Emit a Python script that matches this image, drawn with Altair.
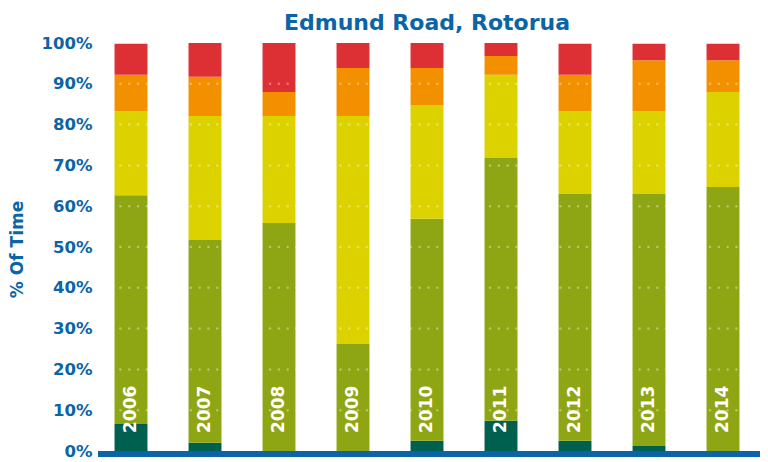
import altair as alt
import pandas as pd

years = ["2006", "2007", "2008", "2009", "2010", "2011", "2012", "2013", "2014"]
categories = ["Excellent", "Good", "Fair", "Poor", "Very Poor"]
colors = ["#006050", "#8fa614", "#dcd200", "#f29000", "#dc3035"]

excellent = [6.6, 2.0, 0.0, 0.0, 2.5, 7.4, 2.5, 1.2, 0.0]
good = [56.1, 49.7, 55.9, 26.2, 54.4, 64.4, 60.5, 61.8, 64.7]
fair = [20.6, 30.4, 26.2, 55.9, 27.9, 20.4, 20.3, 20.3, 23.3]
poor = [8.9, 9.6, 5.9, 11.8, 9.1, 4.6, 8.9, 12.5, 7.8]
very_poor = [7.6, 8.3, 12.0, 6.1, 6.1, 3.2, 7.6, 4.0, 4.0]

y_ticks = [0, 10, 20, 30, 40, 50, 60, 70, 80, 90, 100]
grid_levels = [10, 20, 30, 40, 50, 60, 70, 80, 90]

series = [excellent, good, fair, poor, very_poor]
rows = []
for ci, (cat, vals) in enumerate(zip(categories, series)):
    for y, v in zip(years, vals):
        rows.append({"Year": y, "Category": cat, "Order": ci, "Value": v})
df = pd.DataFrame(rows)
years_df = pd.DataFrame({"Year": years})
grid_df = pd.DataFrame({"Level": grid_levels})

BLUE = "#0a64a5"
FONT = "DejaVu Sans"
W, H = 666, 408

xscale = alt.Scale(domain=years, paddingInner=0.555, paddingOuter=0.2775)
yscale = alt.Scale(domain=[0, 100], nice=False)

bars = alt.Chart(df).mark_bar().encode(
    x=alt.X("Year:N", scale=xscale, axis=None),
    y=alt.Y(
        "sum(Value):Q",
        scale=yscale,
        stack="zero",
        title="% Of Time",
        axis=alt.Axis(
            values=y_ticks,
            labelExpr="datum.value + '%'",
            grid=False,
            domain=False,
            ticks=False,
            labelPadding=2,
            labelFont=FONT,
            labelFontSize=16.5,
            labelFontWeight="bold",
            labelColor=BLUE,
            titleFont=FONT,
            titleFontSize=17,
            titleFontWeight="bold",
            titleColor=BLUE,
            titleAngle=270,
            titleAlign="center",
            titleBaseline="middle",
            titleX=-77,
            titleY=206,
        ),
    ),
    color=alt.Color(
        "Category:N",
        scale=alt.Scale(domain=categories, range=colors),
        legend=None,
    ),
    order=alt.Order("Order:Q", sort="ascending"),
)

grid = alt.Chart(grid_df).mark_rule(
    color="white", opacity=0.35, strokeWidth=2.5, strokeDash=[0.1, 8.7], strokeCap="round"
).encode(
    y=alt.Y("Level:Q", scale=yscale),
    x=alt.value(0),
    x2=alt.value(W),
)

labels = alt.Chart(years_df).mark_text(
    angle=270, align="left", baseline="middle", color="white",
    font=FONT, fontSize=17, fontWeight="bold",
).encode(
    x=alt.X("Year:N", scale=xscale, axis=None, bandPosition=0.5),
    y=alt.value(H - 18),
    text="Year:N",
)

base = alt.Chart(years_df).mark_rule(color=BLUE, strokeWidth=6).encode(
    x=alt.value(4), x2=alt.value(W), y=alt.value(H + 3)
)

chart = alt.layer(bars, grid, labels, base).properties(
    width=W,
    height=H,
    padding={"left": 86, "top": 35, "right": 0, "bottom": 8},
    autosize=alt.AutoSizeParams(type="none"),
    title=alt.TitleParams(
        "Edmund Road, Rotorua",
        font=FONT, fontSize=22, fontWeight="bold", color=BLUE,
        anchor="middle", offset=0,
    ),
).configure_view(stroke=None)

chart.save("out.html", embed_options={"renderer": "svg", "actions": False})
